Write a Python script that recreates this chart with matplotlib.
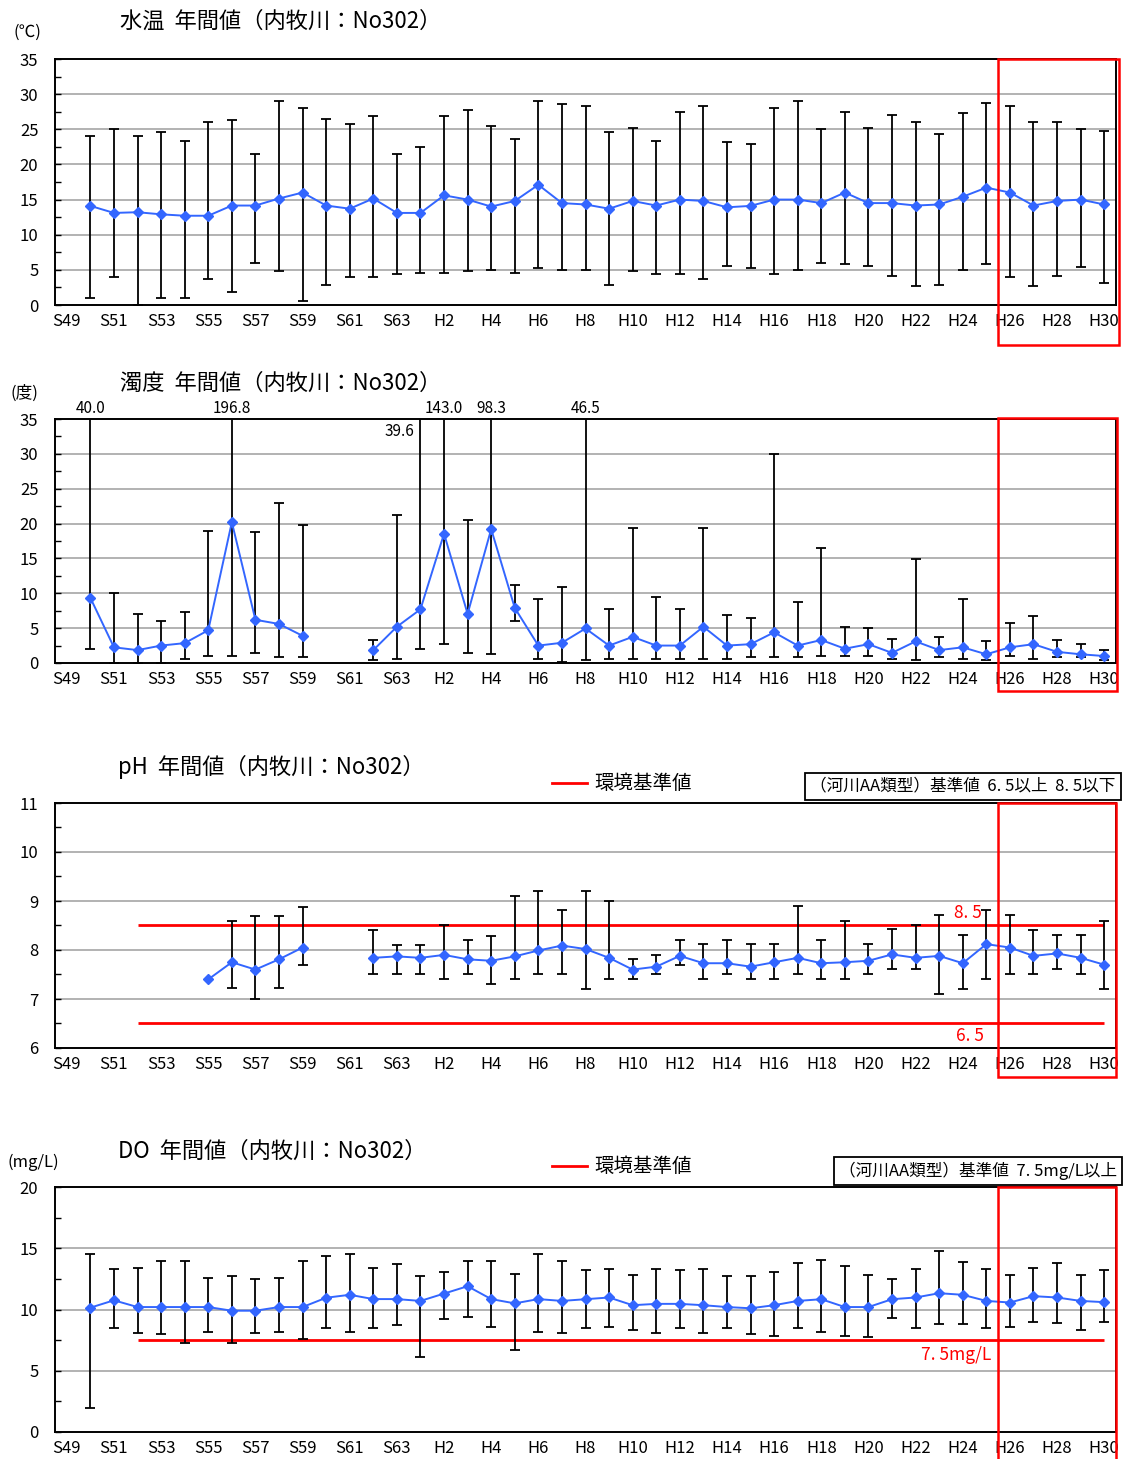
import matplotlib
matplotlib.use("Agg")
import matplotlib.pyplot as plt
import numpy as np
from matplotlib.patches import Rectangle
from matplotlib.lines import Line2D

plt.rcParams["font.family"] = ["Noto Sans CJK JP", "DejaVu Sans"]

W, H = 1125, 1459
N = None

YEARS = [f"S{y}" for y in range(49, 64)] + [f"H{y}" for y in range(1, 31)]

# 水温 (℃)
temp_mean = [N, 14.1, 13.1, 13.2, 12.9, 12.7, 12.7, 14.15, 14.15, 15.15, 16.0, 14.15, 13.7, 15.15, 13.1,
             13.1, 15.6, 15.0, 14.0, 14.8, 17.1, 14.5, 14.3, 13.7, 14.8, 14.15, 15.0, 14.8, 13.9, 14.1,
             15.0, 15.0, 14.5, 16.0, 14.5, 14.5, 14.15, 14.3, 15.4, 16.7, 16.0, 14.15, 14.8, 15.0, 14.3]
temp_max = [N, 24.0, 25.0, 24.0, 24.6, 23.4, 26.1, 26.3, 21.5, 29.0, 28.0, 26.5, 25.7, 26.9, 21.5,
            22.5, 26.9, 27.7, 25.5, 23.6, 29.0, 28.6, 28.3, 24.6, 25.2, 23.4, 27.5, 28.3, 23.2, 22.9,
            28.0, 29.0, 25.0, 27.5, 25.2, 27.1, 26.1, 24.4, 27.35, 28.8, 28.3, 26.1, 26.1, 25.0, 24.8]
temp_min = [N, 1.0, 4.0, 0.0, 1.0, 1.0, 3.75, 1.9, 6.0, 4.8, 0.5, 2.9, 4.0, 4.0, 4.4,
            4.6, 4.6, 4.8, 5.0, 4.6, 5.2, 5.0, 5.0, 2.9, 4.8, 4.4, 4.4, 3.75, 5.6, 5.2,
            4.4, 5.0, 6.0, 5.8, 5.6, 4.1, 2.7, 2.9, 5.0, 5.8, 4.0, 2.7, 4.1, 5.4, 3.1]

# 濁度 (度)
turb_mean = [N, 9.35, 2.25, 1.85, 2.5, 2.85, 4.7, 20.2, 6.2, 5.6, 3.9, N, N, 1.85, 5.2,
             7.7, 18.55, 7.05, 19.2, 7.9, 2.5, 2.9, 4.95, 2.5, 3.75, 2.5, 2.5, 5.2, 2.5, 2.7,
             4.4, 2.5, 3.3, 2.05, 2.7, 1.45, 3.1, 1.85, 2.25, 1.25, 2.25, 2.7, 1.6, 1.25, 1.0]
turb_max = [N, 40.0, 10.0, 7.05, 6.0, 7.25, 19.0, 196.8, 18.8, 23.0, 19.8, N, N, 3.3, 21.3,
            39.6, 143.0, 20.45, 98.3, 11.2, 9.15, 10.9, 46.5, 7.7, 19.4, 9.4, 7.7, 19.4, 6.9, 6.45,
            30.0, 8.7, 16.45, 5.2, 4.95, 3.5, 14.85, 3.7, 9.15, 3.1, 5.8, 6.7, 3.3, 2.7, 1.85]
turb_min = [N, 2.05, 0.0, 0.0, 0.0, 0.55, 1.0, 1.0, 1.4, 0.8, 0.8, N, N, 0.45, 0.55,
            2.05, 2.7, 1.4, 1.25, 6.0, 0.55, 0.2, 0.45, 0.55, 0.55, 0.55, 0.55, 0.55, 0.55, 0.8,
            0.8, 0.8, 1.0, 1.0, 1.0, 0.55, 0.45, 0.8, 0.55, 0.45, 1.0, 0.55, 0.8, 0.8, 0.45]
turb_labels = {"S50": "40.0", "S56": "196.8", "H1": "39.6", "H2": "143.0", "H4": "98.3", "H8": "46.5"}

# pH
ph_mean = [N, N, N, N, N, N, 7.40, 7.75, 7.60, 7.81, 8.05, N, N, 7.84, 7.87,
           7.84, 7.90, 7.81, 7.78, 7.87, 7.99, 8.09, 8.02, 7.84, 7.60, 7.66, 7.88, 7.73, 7.73, 7.66,
           7.75, 7.84, 7.73, 7.75, 7.78, 7.91, 7.84, 7.88, 7.73, 8.12, 8.05, 7.88, 7.93, 7.84, 7.70]
ph_max = [N, N, N, N, N, N, N, 8.59, 8.70, 8.70, 8.88, N, N, 8.41, 8.11,
          8.11, 8.50, 8.20, 8.29, 9.10, 9.20, 8.81, 9.20, 9.00, 7.82, 7.90, 8.20, 8.12, 8.20, 8.12,
          8.12, 8.90, 8.20, 8.60, 8.12, 8.42, 8.50, 8.71, 8.30, 8.81, 8.71, 8.41, 8.30, 8.30, 8.60]
ph_min = [N, N, N, N, N, N, N, 7.22, 7.00, 7.22, 7.70, N, N, 7.52, 7.52,
          7.52, 7.40, 7.52, 7.31, 7.40, 7.52, 7.52, 7.21, 7.40, 7.40, 7.52, 7.70, 7.40, 7.52, 7.40,
          7.40, 7.52, 7.40, 7.40, 7.52, 7.61, 7.61, 7.10, 7.21, 7.40, 7.52, 7.52, 7.61, 7.52, 7.21]

# DO (mg/L)
do_mean = [N, 10.15, 10.75, 10.2, 10.2, 10.2, 10.2, 9.9, 9.9, 10.2, 10.2, 10.96, 11.2, 10.85, 10.85,
           10.7, 11.3, 11.9, 10.85, 10.5, 10.85, 10.7, 10.84, 10.98, 10.35, 10.46, 10.46, 10.35, 10.2, 10.1,
           10.35, 10.7, 10.84, 10.2, 10.2, 10.84, 10.98, 11.33, 11.2, 10.7, 10.57, 11.09, 10.98, 10.7, 10.6]
do_max = [N, 14.5, 13.3, 13.4, 14.0, 14.0, 12.6, 12.7, 12.5, 12.6, 14.0, 14.4, 14.5, 13.4, 13.7,
          12.7, 13.1, 14.0, 14.0, 12.9, 14.5, 13.97, 13.2, 13.34, 12.83, 13.34, 13.2, 13.34, 12.7, 12.7,
          13.07, 13.8, 14.05, 13.56, 12.83, 12.5, 13.34, 14.78, 13.9, 13.34, 12.83, 13.42, 13.8, 12.83, 13.2]
do_min = [N, 1.93, 8.47, 8.1, 8.0, 7.3, 8.2, 7.3, 8.1, 8.2, 7.6, 8.47, 8.2, 8.47, 8.7,
          6.1, 9.2, 9.4, 8.6, 6.7, 8.2, 8.1, 8.45, 8.59, 8.32, 8.1, 8.45, 8.1, 8.45, 7.96,
          7.85, 8.45, 8.18, 7.85, 7.72, 9.32, 8.45, 8.8, 8.8, 8.45, 8.59, 9.02, 8.91, 8.32, 9.02]

LINE_BLUE = "#3366FF"


def fx(px):
    return px / W


def fy(py):
    return 1 - py / H


def arr(vals):
    return np.array([np.nan if v is None else v for v in vals], dtype=float)


def draw_panel(fig, top, bottom, mean, vmax, vmin, ylim, step, minor):
    ax = fig.add_axes([fx(55), fy(bottom), fx(1116) - fx(55), (bottom - top) / H])
    x = np.arange(len(YEARS))
    m, hi, lo = arr(mean), arr(vmax), arr(vmin)
    ok = ~np.isnan(m) & ~np.isnan(hi) & ~np.isnan(lo)
    ax.errorbar(x[ok], m[ok], yerr=[m[ok] - lo[ok], hi[ok] - m[ok]], fmt="none",
                ecolor="black", elinewidth=1.3, capsize=3.5, capthick=1.3, zorder=3)
    ax.plot(x, m, color=LINE_BLUE, lw=1.4, marker="D", ms=5.5, zorder=4)
    ax.set_xlim(-0.5, len(YEARS) - 0.5)
    ax.set_ylim(*ylim)
    ax.set_yticks(np.arange(ylim[0], ylim[1] + step / 2, step))
    ax.set_yticks(np.arange(ylim[0], ylim[1], minor), minor=True)
    ax.set_xticks(x[::2])
    ax.set_xticklabels(YEARS[::2], fontsize=12)
    ax.tick_params(axis="x", length=0, pad=6)
    ax.tick_params(axis="y", which="both", direction="in", length=4, width=1, labelsize=12, pad=12)
    for v in np.arange(ylim[0] + step, ylim[1], step):
        ax.axhline(v, color="#A6A6A6", lw=1.2, zorder=1)
    for s in ax.spines.values():
        s.set_linewidth(1.4)
    return ax


def red_box(fig, x0, y0, x1, y1):
    fig.patches.append(Rectangle((fx(x0), fy(y1)), fx(x1) - fx(x0), (y1 - y0) / H,
                                 transform=fig.transFigure, fill=False, ec="red", lw=1.8, zorder=10))


def legend_line(fig, y):
    fig.lines.append(Line2D([fx(552), fx(587)], [fy(y), fy(y)], transform=fig.transFigure, color="red", lw=2))
    fig.text(fx(594), fy(y), "環境基準値", fontsize=14, va="center", ha="left")


fig = plt.figure(figsize=(W / 100, H / 100), dpi=100)

# 水温
ax1 = draw_panel(fig, 59, 305, temp_mean, temp_max, temp_min, (0, 35), 5, 2.5)
fig.text(fx(120), fy(21), "水温  年間値（内牧川：No302）", fontsize=16, va="center")
fig.text(fx(27), fy(32), "(℃)", fontsize=12, va="center", ha="center")
red_box(fig, 998, 59, 1119, 345)

# 濁度
ax2 = draw_panel(fig, 419, 663, turb_mean, turb_max, turb_min, (0, 35), 5, 2.5)
fig.text(fx(120), fy(383), "濁度  年間値（内牧川：No302）", fontsize=16, va="center")
fig.text(fx(24), fy(393), "(度)", fontsize=12, va="center", ha="center")
for key, label in turb_labels.items():
    i = YEARS.index(key)
    if key == "H1":
        ax2.text(i - 0.25, 33.2, label, fontsize=11, ha="right", va="center")
    else:
        ax2.text(i, 35.3, label, fontsize=11, ha="center", va="bottom")
red_box(fig, 998, 418, 1117, 691)

# pH
ax3 = draw_panel(fig, 803, 1048, ph_mean, ph_max, ph_min, (6, 11), 1, 0.5)
fig.text(fx(118), fy(767), "pH  年間値（内牧川：No302）", fontsize=16, va="center")
ax3.hlines([8.5, 6.5], 3, len(YEARS) - 1, color="red", lw=2, zorder=2)
ax3.text(38.8, 8.57, "8. 5", color="red", fontsize=12.5, ha="right", va="bottom")
ax3.text(38.9, 6.43, "6. 5", color="red", fontsize=12.5, ha="right", va="top")
legend_line(fig, 783)
fig.text(fx(963), fy(786), "（河川AA類型）基準値  6. 5以上  8. 5以下", fontsize=12, ha="center", va="center",
         bbox=dict(boxstyle="square,pad=0.3", fc="white", ec="black", lw=1.3))
red_box(fig, 998, 803, 1116, 1077)

# DO
ax4 = draw_panel(fig, 1187, 1432, do_mean, do_max, do_min, (0, 20), 5, 2.5)
fig.text(fx(118), fy(1151), "DO  年間値（内牧川：No302）", fontsize=16, va="center")
fig.text(fx(33), fy(1162), "(mg/L)", fontsize=12, va="center", ha="center")
ax4.hlines(7.5, 3, len(YEARS) - 1, color="red", lw=2, zorder=2)
ax4.text(39.2, 7.0, "7. 5mg/L", color="red", fontsize=12.5, ha="right", va="top")
legend_line(fig, 1166)
fig.text(fx(978), fy(1171), "（河川AA類型）基準値  7. 5mg/L以上", fontsize=12, ha="center", va="center",
         bbox=dict(boxstyle="square,pad=0.3", fc="white", ec="black", lw=1.3))
red_box(fig, 998, 1187, 1116, 1470)

fig.savefig("out.png", dpi=100)
